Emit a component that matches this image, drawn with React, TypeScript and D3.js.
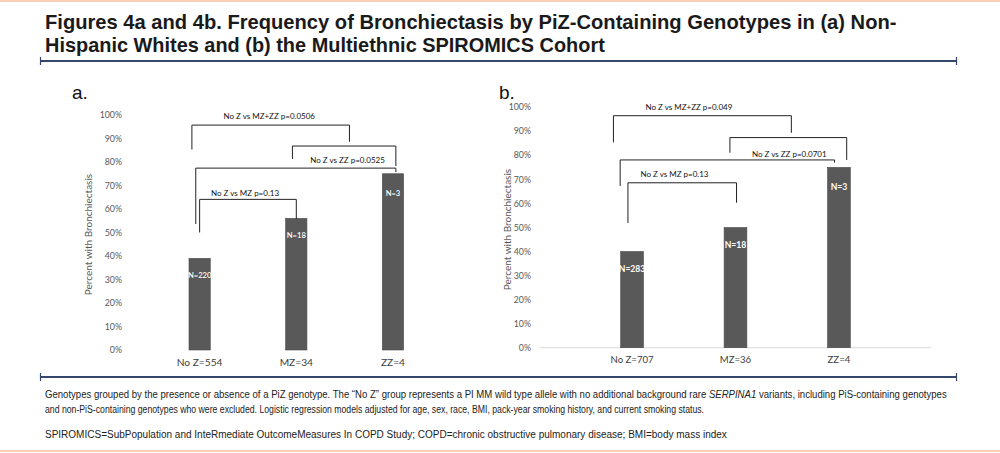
import { useLayoutEffect, useRef, useState, ReactNode } from "react";
import * as d3 from "d3";

// panel a: non-Hispanic whites
const categoriesA = ["No Z=554", "MZ=34", "ZZ=4"];
const valuesA = [39, 56, 75];
const countsA = ["N=220", "N=18", "N=3"];

// panel b: multiethnic cohort
const categoriesB = ["No Z=707", "MZ=36", "ZZ=4"];
const valuesB = [40, 50, 75];
const countsB = ["N=283", "N=18", "N=3"];

const yTicks = [0, 10, 20, 30, 40, 50, 60, 70, 80, 90, 100];

// brackets in data units: x = category position (0..2), y = percent
const bracketsA = [
  { label: "No Z vs MZ+ZZ p=0.0506", x1: -0.08, x2: 1.55, y: 95.7, y1: 85.3, y2: 88.6, lx: 0.72, ly: 99.6 },
  { label: "", x1: 0.96, x2: 2.03, y: 86.8, y1: 81.3, y2: 78.3, lx: 0, ly: 0 },
  { label: "No Z vs ZZ p=0.0525", x1: -0.04, x2: 2.03, y: 77.4, y1: 53.6, y2: 75.7, lx: 1.53, ly: 80.9 },
  { label: "No Z vs MZ  p=0.13", x1: 0, x2: 1.0, y: 64.1, y1: 50, y2: 55.7, lx: 0.47, ly: 66.8 },
];

const bracketsB = [
  { label: "No Z vs MZ+ZZ p=0.049", x1: -0.18, x2: 1.54, y: 96.5, y1: 85.4, y2: 89.4, lx: 0.55, ly: 100 },
  { label: "", x1: 0.946, x2: 2.075, y: 87.4, y1: 81.1, y2: 78.1, lx: 0, ly: 0 },
  { label: "No Z vs ZZ p=0.0701", x1: -0.115, x2: 1.957, y: 78.1, y1: 67.3, y2: 77, lx: 1.52, ly: 80.6 },
  { label: "No Z vs MZ  p=0.13", x1: -0.04, x2: 1.01, y: 68.6, y1: 51.9, y2: 60.3, lx: 0.41, ly: 72.1 },
];

const calibri = "Lato, 'Open Sans', sans-serif";
const narrow = "'Liberation Sans Narrow', 'Liberation Sans', Arial, sans-serif";

type Bracket = (typeof bracketsA)[number];

// squeezes a line horizontally so it spans `width` px (stand-in for Arial Narrow)
const FitText = ({ x, y, width, children }: { x: number; y: number; width: number; children: ReactNode }) => {
  const ref = useRef<SVGTextElement>(null);
  const [sx, setSx] = useState(1);
  useLayoutEffect(() => {
    const len = ref.current ? ref.current.getComputedTextLength() : 0;
    if (len > 0) setSx(width / len);
  }, [width]);
  return (
    <text ref={ref} transform={`translate(${x}, ${y}) scale(${sx}, 1)`}>
      {children}
    </text>
  );
};

interface PanelProps {
  tag: string;
  tagX: number;
  categories: string[];
  values: number[];
  counts: string[];
  brackets: Bracket[];
  x0: number;
  x1: number;
  yTop: number;
  yBottom: number;
  tickX: number;
  titleX: number;
  baseline: boolean;
  barLabelSize: number;
  barLabelWeight: number;
  catSize: number;
}

const Panel = (p: PanelProps) => {
  const x = d3.scaleBand<string>().domain(p.categories).range([p.x0, p.x1]).padding(0.78);
  const y = d3.scaleLinear().domain([0, 100]).range([p.yBottom, p.yTop]);
  const c0 = (x(p.categories[0]) as number) + x.bandwidth() / 2;
  const c2 = (x(p.categories[2]) as number) + x.bandwidth() / 2;
  const pos = d3.scaleLinear().domain([0, 2]).range([c0, c2]);

  return (
    <g>
      <text x={p.tagX} y={99} fontFamily="'Liberation Sans', Arial" fontSize={19} fill="#111">
        {p.tag}
      </text>
      {yTicks.map(t => (
        <text key={t} x={p.tickX} y={y(t)} dy="0.35em" textAnchor="end" fontFamily={calibri} fontSize={8.8} fill="#595959">
          {t}%
        </text>
      ))}
      <text
        transform={`translate(${p.titleX}, ${(y(0) + y(100)) / 2 + 2}) rotate(-90)`}
        textAnchor="middle"
        fontFamily={calibri}
        fontSize={10}
        fill="#595959"
      >
        Percent with Bronchiectasis
      </text>
      {p.baseline && <line x1={p.x0} x2={p.x1} y1={y(0)} y2={y(0)} stroke="#d9d9d9" strokeWidth={1} />}
      {p.values.map((v, i) => (
        <g key={i}>
          <rect
            x={x(p.categories[i]) as number}
            y={y(v)}
            width={x.bandwidth()}
            height={y(0) - y(v)}
            fill="#595959"
            stroke="#4a4a4a"
            strokeWidth={0.6}
          />
          <text
            x={(x(p.categories[i]) as number) + x.bandwidth() / 2}
            y={y(v) + 17 + (i === 2 ? 3 : 0)}
            dy="0.35em"
            textAnchor="middle"
            fontFamily={calibri}
            fontSize={p.barLabelSize}
            fontWeight={p.barLabelWeight}
            fill="#fff"
          >
            {p.counts[i]}
          </text>
          <text
            x={(x(p.categories[i]) as number) + x.bandwidth() / 2}
            y={y(0) + 12}
            dy="0.35em"
            textAnchor="middle"
            fontFamily={calibri}
            fontSize={p.catSize}
            fill="#404040"
          >
            {p.categories[i]}
          </text>
        </g>
      ))}
      {p.brackets.map((b, i) => (
        <g key={i}>
          <path
            d={`M${pos(b.x1)},${y(b.y1)}V${y(b.y)}H${pos(b.x2)}V${y(b.y2)}`}
            fill="none"
            stroke="#222"
            strokeWidth={1}
          />
          {b.label && (
            <text x={pos(b.lx)} y={y(b.ly)} dy="0.35em" textAnchor="middle" fontFamily={calibri} fontSize={8} fill="#111">
              {b.label}
            </text>
          )}
        </g>
      ))}
    </g>
  );
};

const Rule = ({ y }: { y: number }) => (
  <g stroke="#34466a">
    <line x1={40} x2={957} y1={y} y2={y} strokeWidth={2} />
    <line x1={40.5} x2={40.5} y1={y - 4} y2={y + 4} strokeWidth={1.2} />
    <line x1={956.5} x2={956.5} y1={y - 4} y2={y + 4} strokeWidth={1.2} />
  </g>
);

export default function App() {
  return (
    <svg width={1000} height={453} style={{ position: "absolute", left: 0, top: 0, background: "#fff" }}>
      <rect x={0} y={0} width={1000} height={2} fill="#fbcfb3" />
      <rect x={0} y={450} width={1000} height={2} fill="#fbcfb3" />

      <g fontFamily={narrow} fontWeight="bold" fontSize={20} fill="#1a1a1a">
        <FitText x={45} y={29} width={852}>
          Figures 4a and 4b. Frequency of Bronchiectasis by PiZ-Containing Genotypes in (a) Non-
        </FitText>
        <FitText x={45} y={52} width={560}>
          Hispanic Whites and (b) the Multiethnic SPIROMICS Cohort
        </FitText>
      </g>
      <Rule y={61} />

      <Panel
        tag="a."
        tagX={72}
        categories={categoriesA}
        values={valuesA}
        counts={countsA}
        brackets={bracketsA}
        x0={113.6}
        x1={479}
        yTop={115}
        yBottom={350}
        tickX={122}
        titleX={92}
        baseline={false}
        barLabelSize={7.6}
        barLabelWeight={600}
        catSize={10.2}
      />
      <Panel
        tag="b."
        tagX={499}
        categories={categoriesB}
        values={valuesB}
        counts={countsB}
        brackets={bracketsB}
        x0={540}
        x1={931}
        yTop={107.3}
        yBottom={347.7}
        tickX={531}
        titleX={511}
        baseline={true}
        barLabelSize={8.6}
        barLabelWeight={700}
        catSize={9.6}
      />

      <Rule y={377} />
      <g fontFamily={narrow} fontSize={10} fill="#222">
        <FitText x={45} y={398} width={903}>
          Genotypes grouped by the presence or absence of a PiZ genotype. The “No Z” group represents a PI MM wild type allele with no additional background rare{" "}
          <tspan fontStyle="italic">SERPINA1</tspan> variants, including PiS-containing genotypes
        </FitText>
        <FitText x={45} y={413} width={660}>
          and non-PiS-containing genotypes who were excluded. Logistic regression models adjusted for age, sex, race, BMI, pack-year smoking history, and current smoking status.
        </FitText>
        <FitText x={45} y={438} width={682}>
          SPIROMICS=SubPopulation and InteRmediate OutcomeMeasures In COPD Study; COPD=chronic obstructive pulmonary disease; BMI=body mass index
        </FitText>
      </g>
    </svg>
  );
}
